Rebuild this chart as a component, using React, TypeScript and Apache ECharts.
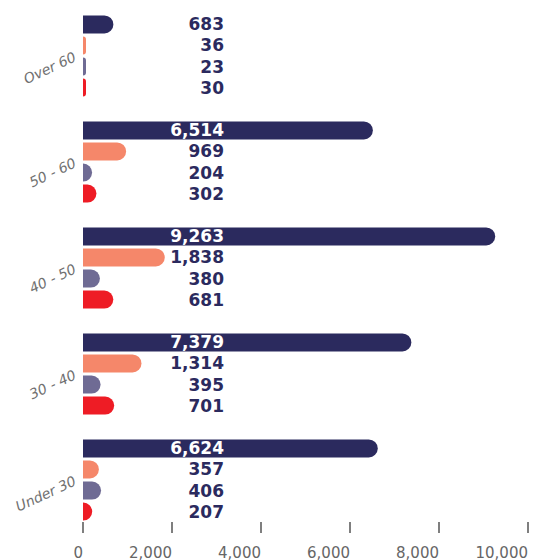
import React, { useEffect, useRef } from "react";
import * as echarts from "echarts";

const categories = ["Over 60", "50 - 60", "40 - 50", "30 - 40", "Under 30"];
const seriesA = [683, 6514, 9263, 7379, 6624];
const seriesB = [36, 969, 1838, 1314, 357];
const seriesC = [23, 204, 380, 395, 406];
const seriesD = [30, 302, 681, 701, 207];
const xTicks = { min: 0, max: 10000, interval: 2000 };

const colors = ["#2b2a5e", "#f5876a", "#6f6b94", "#ee1c25"];
const LABEL_X = 141;
const PX_PER_UNIT = 445 / 10000;

const fmt = (v: number) => v.toLocaleString("en-US");

export default function App() {
  const ref = useRef<HTMLDivElement>(null);
  useEffect(() => {
    if (!ref.current) return;
    const chart = echarts.init(ref.current, null, { renderer: "svg" });
    const all = [seriesA, seriesB, seriesC, seriesD];
    const series = all.map((vals, si) => ({
      type: "bar",
      name: "s" + si,
      barWidth: 18,
      barGap: "17%",
      barMinHeight: 3,
      itemStyle: { color: colors[si], borderRadius: [0, 9, 9, 0] },
      data: vals.map((v) => ({
        value: v,
        label: {
          color: v * PX_PER_UNIT > LABEL_X - 2 ? "#ffffff" : "#2b2a5e",
        },
      })),
      label: {
        show: true,
        position: [LABEL_X, "50%"],
        align: "right",
        verticalAlign: "middle",
        fontFamily: "DejaVu Sans",
        fontWeight: "bold",
        fontSize: 17,
        formatter: (p: any) => fmt(p.value),
      },
    }));
    chart.setOption({
      animation: false,
      grid: { left: 83, right: 5, top: 3, bottom: 25 },
      xAxis: {
        type: "value",
        min: xTicks.min,
        max: xTicks.max,
        interval: xTicks.interval,
        splitLine: { show: false },
        axisLine: { show: false },
        axisTick: {
          show: true,
          inside: true,
          length: 11,
          lineStyle: { color: "#555555", width: 1.5 },
        },
        axisLabel: {
          align: "right",
          margin: 12,
          color: "#666666",
          fontFamily: "DejaVu Sans",
          fontSize: 15,
          formatter: (v: number) => fmt(v),
        },
      },
      yAxis: {
        type: "category",
        inverse: true,
        data: categories,
        axisLine: { show: false },
        axisTick: { show: false },
        axisLabel: {
          rotate: 25,
          margin: 8,
          color: "#707070",
          fontStyle: "italic",
          fontFamily: "DejaVu Sans",
          fontSize: 14,
        },
      },
      series,
    });
    return () => chart.dispose();
  }, []);
  return (
    <div
      ref={ref}
      style={{ position: "fixed", left: 0, top: 0, width: 533, height: 560, background: "#fff" }}
    />
  );
}
